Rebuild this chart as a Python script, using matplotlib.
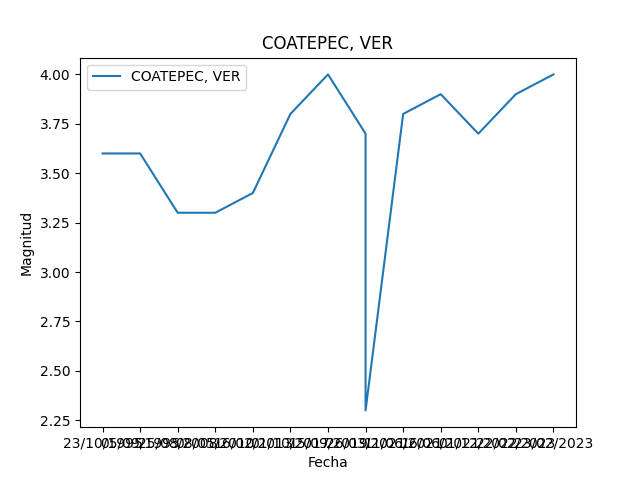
import matplotlib
matplotlib.use("Agg")
import matplotlib.pyplot as plt

fechas = ["23/10/1995", "05/09/1995", "25/08/2008", "08/05/2010", "16/02/2013",
          "01/10/2017", "15/09/2019", "26/03/2021", "26/03/2021", "11/06/2021",
          "16/06/2021", "01/12/2022", "22/02/2023", "23/02/2023"]
magnitud = [3.6, 3.6, 3.3, 3.3, 3.4, 3.8, 4.0, 3.7, 2.3, 3.8, 3.9, 3.7, 3.9, 4.0]

fig, ax = plt.subplots(figsize=(6.4, 4.8), dpi=100)
ax.plot(fechas, magnitud, label="COATEPEC, VER")
ax.set_title("COATEPEC, VER")
ax.set_xlabel("Fecha")
ax.set_ylabel("Magnitud")
ax.legend(loc="upper left")
fig.savefig("out.png")
